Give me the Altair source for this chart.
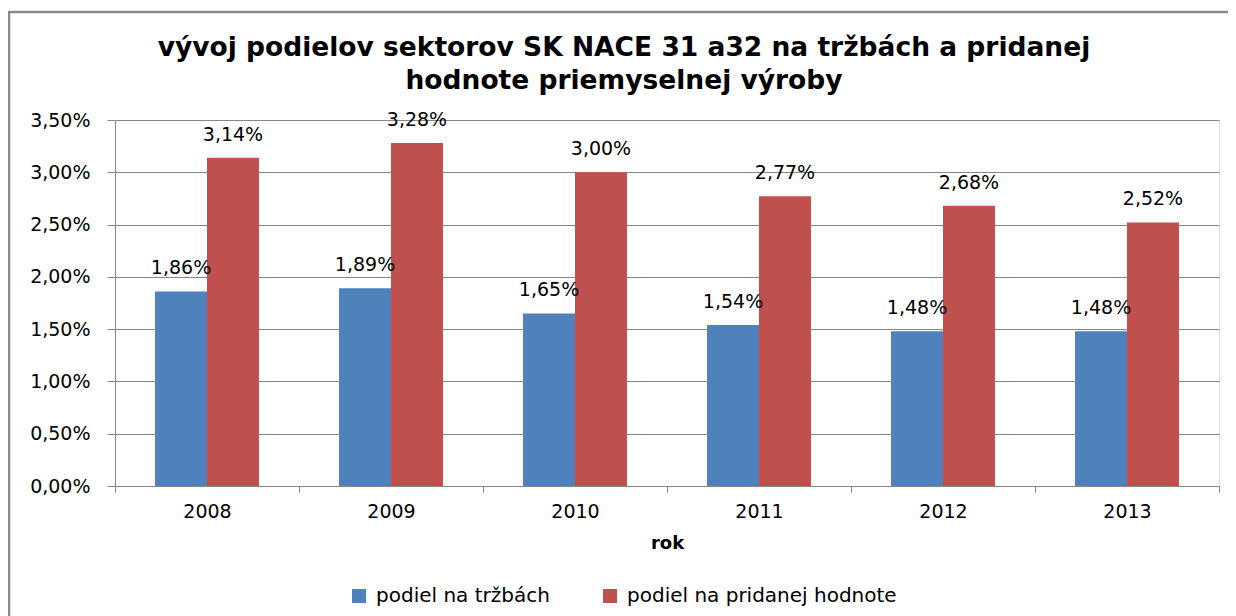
import altair as alt
import pandas as pd

years = ["2008", "2009", "2010", "2011", "2012", "2013"]
series_names = ["podiel na tržbách", "podiel na pridanej hodnote"]
trzby = [1.86, 1.89, 1.65, 1.54, 1.48, 1.48]
pridana = [3.14, 3.28, 3.00, 2.77, 2.68, 2.52]
y_ticks = [0.0, 0.5, 1.0, 1.5, 2.0, 2.5, 3.0, 3.5]
colors = ["#4F81BD", "#C0504D"]
title_text = "vývoj podielov sektorov SK NACE 31 a32 na tržbách a pridanej\nhodnote priemyselnej výroby"

rows = []
for i, yr in enumerate(years):
    rows.append({"rok": yr, "seria": series_names[0], "hodnota": trzby[i] / 100})
    rows.append({"rok": yr, "seria": series_names[1], "hodnota": pridana[i] / 100})
df = pd.DataFrame(rows)

FONT = "DejaVu Sans"
GRID = "#868686"

x_enc = alt.X("rok:N", sort=years, title="rok",
              scale=alt.Scale(paddingInner=0, paddingOuter=0),
              axis=alt.Axis(labelAngle=0, tickBand="extent", tickSize=6,
                            tickColor=GRID, domainColor=GRID, labelFontSize=19,
                            labelFont=FONT, labelColor="#000000", labelPadding=10,
                            titleFont="DejaVu Sans", titleFontSize=18, titleFontWeight="bold",
                            titleColor="#000000", titlePadding=13))
xoff = alt.XOffset("seria:N", sort=series_names,
                   scale=alt.Scale(paddingInner=0, paddingOuter=0.77))
y_enc = alt.Y("hodnota:Q", title=None,
              scale=alt.Scale(domain=[0, 0.035], nice=False),
              axis=alt.Axis(values=[v / 100 for v in y_ticks],
                            labelExpr="replace(format(datum.value, '.2%'), '.', ',')",
                            grid=True, gridColor=GRID, gridWidth=1.2,
                            tickSize=8, tickColor=GRID, domainColor=GRID,
                            labelFontSize=19, labelFont=FONT, labelColor="#000000",
                            labelPadding=17))
color_enc = alt.Color("seria:N", sort=series_names,
                      scale=alt.Scale(domain=series_names, range=colors),
                      legend=alt.Legend(title=None, orient="none", direction="horizontal",
                                        legendX=234, legendY=466, padding=0,
                                        symbolType="square", symbolSize=196,
                                        symbolStrokeWidth=0, labelFontSize=20,
                                        labelFont=FONT, labelColor="#000000",
                                        labelOffset=7, columnPadding=50, labelLimit=500))

base = alt.Chart(df)
bars = base.mark_bar().encode(x=x_enc, xOffset=xoff, y=y_enc, color=color_enc)
labels = base.mark_text(baseline="bottom", dy=-13, fontSize=19, font=FONT,
                        color="#000000").transform_calculate(
    lab="replace(format(datum.hodnota, '.2%'), '.', ',')"
).encode(x=x_enc, xOffset=xoff, y=y_enc, text="lab:N")

deco = alt.Chart(alt.Data(values=[{"f": 1}]))
frame = deco.mark_rect(fill=None, stroke="#8a8a8a", strokeWidth=2.5).encode(
    x=alt.value(-106), x2=alt.value(1160), y=alt.value(-108), y2=alt.value(540))
title = deco.mark_text(font="DejaVu Sans", fontSize=26.5, fontWeight="bold", color="#000000",
                       align="center", baseline="middle", lineBreak="\n",
                       lineHeight=33).encode(
    x=alt.value(509), y=alt.value(-72), text=alt.value(title_text))

chart = alt.layer(frame, title, bars, labels).properties(
    width=1104, height=366,
    padding={"left": 107, "top": 112, "right": 9, "bottom": 130},
    autosize=alt.AutoSizeParams(type="none"),
).configure_view(stroke=None).configure(background="white")

chart.save("out.html", embed_options={"renderer": "svg", "actions": False})
